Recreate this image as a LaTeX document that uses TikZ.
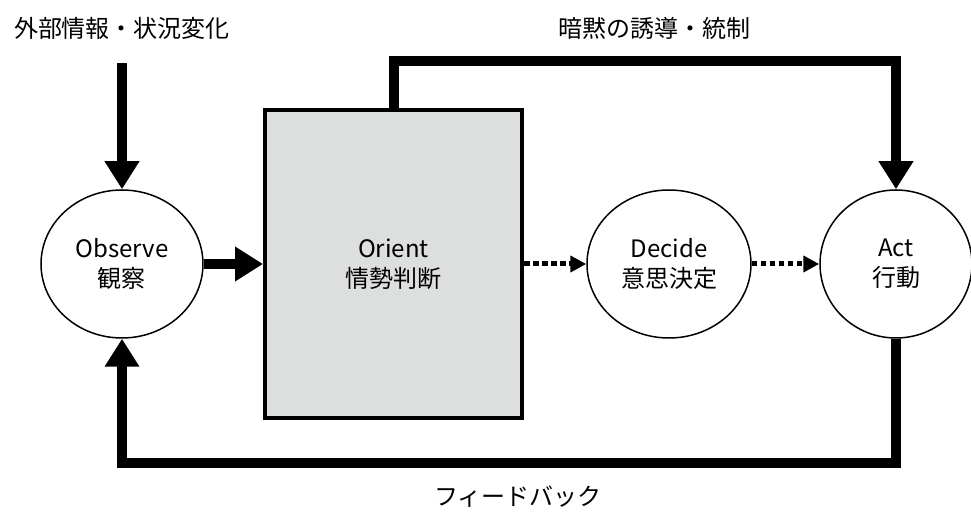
\documentclass[tikz,border=0pt]{standalone}
\usepackage{fontspec}
\setmainfont{Noto Sans CJK JP}
\usetikzlibrary{arrows.meta,shapes.geometric}
\definecolor{orientgray}{RGB}{221,222,222}
\pgfdeclarelayer{background}
\pgfsetlayers{background,main}
\begin{document}
\begin{tikzpicture}[x=0.5pt,y=-0.5pt,
  phase/.style={ellipse,draw,line width=0.75pt,inner sep=0pt,align=center,
    font=\fontsize{12}{15}\selectfont},
  orientbox/.style={rectangle,draw,line width=2pt,fill=orientgray,inner sep=0pt,
    minimum width=128.5pt,minimum height=154pt,align=center,
    font=\fontsize{12}{15}\selectfont},
  bigarrow/.style={line width=5pt,-{Triangle[width=16.5pt,length=14pt]}},
  dotarrow/.style={line width=2.5pt,dash pattern=on 2.75pt off 1.75pt,
    -{Triangle[width=8pt,length=8pt]}},
  label/.style={font=\fontsize{12}{15}\selectfont,inner sep=0pt}]
\useasboundingbox (0,0) rectangle (971,518);
\node[phase,minimum width=81pt,minimum height=74pt] (observe) at (122,264) {Observe\\観察};
\node[orientbox] (orient) at (393.5,264) {Orient\\情勢判断};
\node[phase,minimum width=82pt,minimum height=74pt] (decide) at (669,264) {Decide\\意思決定};
\node[phase,minimum width=76pt,minimum height=74pt] (act) at (896,264) {Act\\行動};
\node[label] (ext) at (122,28) {外部情報・状況変化};
\node[label] (tacit) at (654,28) {暗黙の誘導・統制};
\node[label] (fb) at (518,497) {フィードバック};
\coordinate (extstart) at (122,63);
\draw[bigarrow] (extstart) -- (observe.north);
\draw[bigarrow] (observe.east) -- (orient.west);
\draw[dotarrow] (orient.east) -- (decide.west);
\draw[dotarrow] (decide.east) -- (act.west);
\begin{pgfonlayer}{background}
\draw[bigarrow] (orient.north) -- ++(0,-47) -| (act.north);
\end{pgfonlayer}
\draw[bigarrow] (act.south) -- ++(0,124) -| (observe.south);
\end{tikzpicture}
\end{document}
